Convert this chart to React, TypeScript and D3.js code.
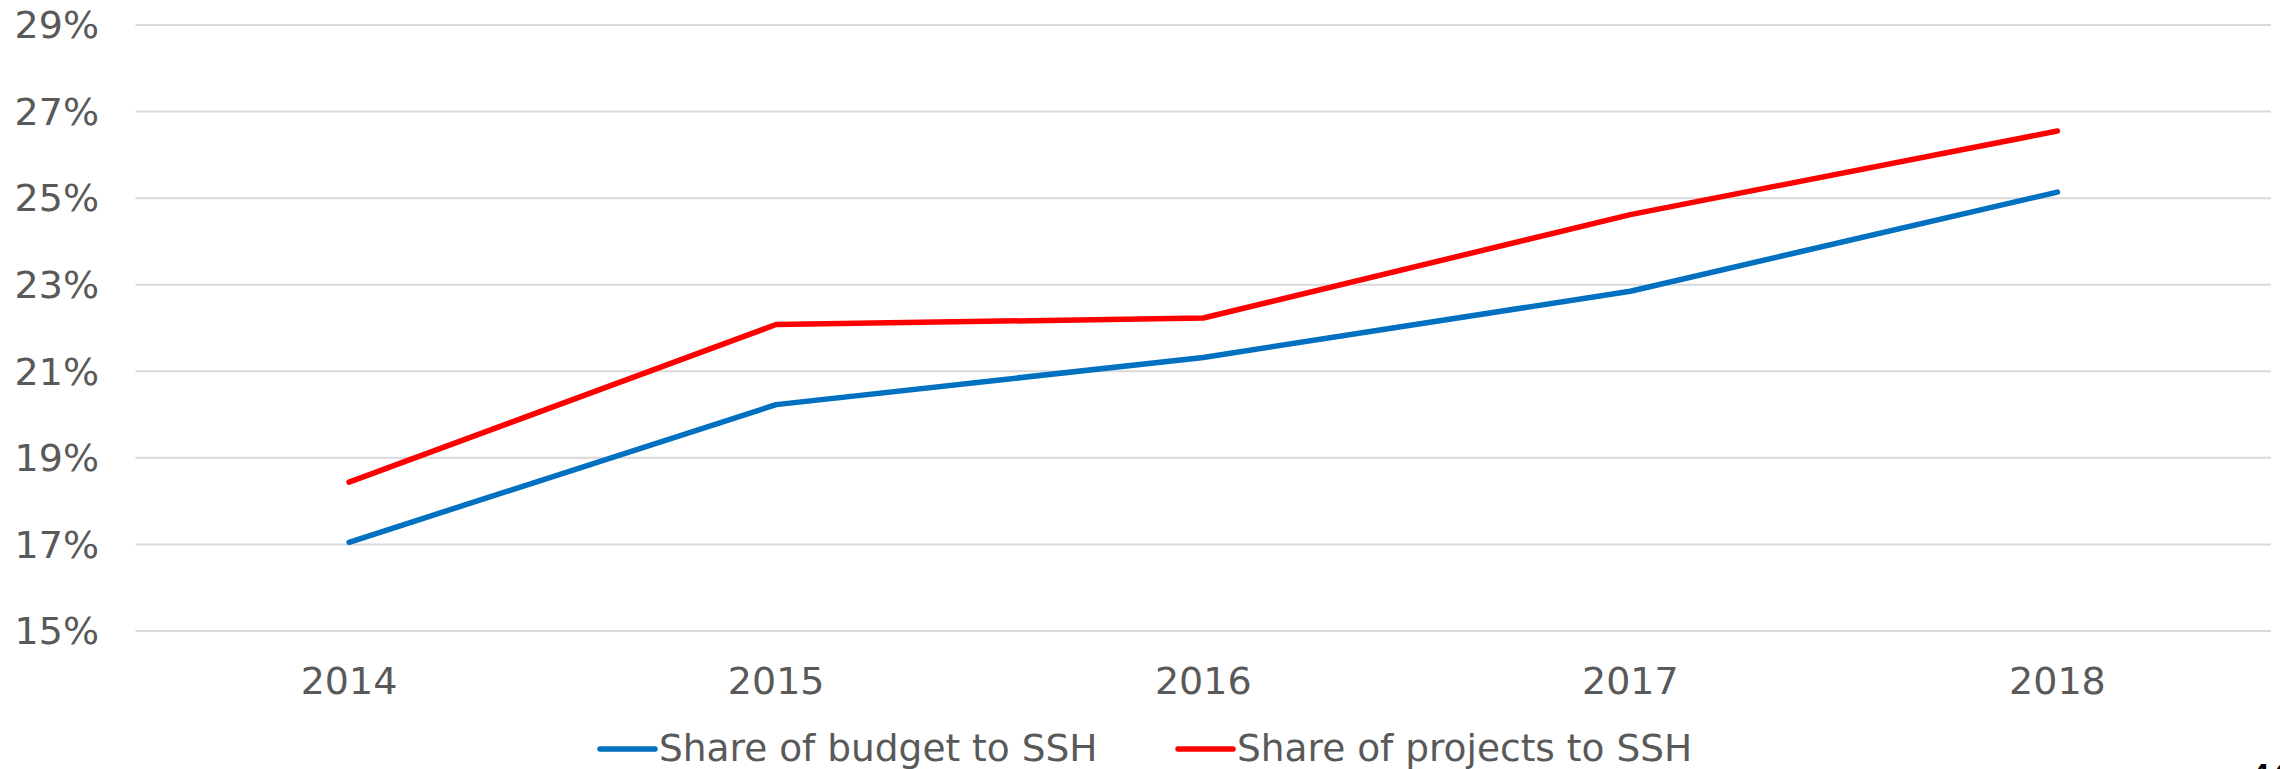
import * as React from 'react';
import * as d3 from 'd3';

const years: string[] = ['2014', '2015', '2016', '2017', '2018'];
const budgetShare: number[] = [17.05, 20.23, 21.32, 22.85, 25.14];
const projectShare: number[] = [18.44, 22.08, 22.23, 24.62, 26.55];
const yTicks: number[] = [15, 17, 19, 21, 23, 25, 27, 29];
const seriesNames: string[] = ['Share of budget to SSH', 'Share of projects to SSH'];
const seriesColors: string[] = ['#0070C0', '#FF0000'];
const pageNumber = '40';

const WIDTH = 2280;
const HEIGHT = 769;
const FONT = '"DejaVu Sans", Verdana, sans-serif';
const TEXT_COLOR = '#595959';

export default function App() {
    const svgRef = React.useRef<SVGSVGElement>(null);

    React.useEffect(() => {
        document.body.style.margin = '0';

        const svg = d3.select(svgRef.current);
        svg.selectAll('*').remove();

        const margin = { top: 25, right: 9, bottom: 138, left: 135.5 };
        const plotRight = WIDTH - margin.right;
        const plotBottom = HEIGHT - margin.bottom;

        const xScale = d3.scaleBand<string>()
            .domain(years)
            .range([margin.left, plotRight]);

        const yScale = d3.scaleLinear()
            .domain([15, 29])
            .range([plotBottom, margin.top]);

        const xMid = (year: string) => (xScale(year) as number) + xScale.bandwidth() / 2;

        // gridlines
        svg.append('g')
            .selectAll('line')
            .data(yTicks)
            .enter()
                .append('line')
                .attr('x1', margin.left)
                .attr('x2', plotRight)
                .attr('y1', (d) => yScale(d))
                .attr('y2', (d) => yScale(d))
                .attr('stroke', '#d9d9d9')
                .attr('stroke-width', 2);

        // y tick labels
        svg.append('g')
            .selectAll('text')
            .data(yTicks)
            .enter()
                .append('text')
                .attr('x', 99)
                .attr('y', (d) => yScale(d))
                .attr('dy', '0.35em')
                .attr('text-anchor', 'end')
                .attr('font-family', FONT)
                .attr('font-size', 38)
                .attr('fill', TEXT_COLOR)
                .text((d) => d + '%');

        // x tick labels
        svg.append('g')
            .selectAll('text')
            .data(years)
            .enter()
                .append('text')
                .attr('x', (d) => xMid(d))
                .attr('y', 694)
                .attr('text-anchor', 'middle')
                .attr('font-family', FONT)
                .attr('font-size', 38)
                .attr('fill', TEXT_COLOR)
                .text((d) => d);

        // lines
        const line = d3.line<number>()
            .x((_, i) => xMid(years[i]))
            .y((d) => yScale(d));

        [budgetShare, projectShare].forEach((values, i) => {
            svg.append('path')
                .datum(values)
                .attr('d', line)
                .attr('fill', 'none')
                .attr('stroke', seriesColors[i])
                .attr('stroke-width', 5.5)
                .attr('stroke-linecap', 'round')
                .attr('stroke-linejoin', 'round');
        });

        // legend
        const legendX = [600, 1178];
        const legend = svg.append('g');
        seriesNames.forEach((name, i) => {
            legend.append('line')
                .attr('x1', legendX[i])
                .attr('x2', legendX[i] + 55)
                .attr('y1', 749)
                .attr('y2', 749)
                .attr('stroke', seriesColors[i])
                .attr('stroke-width', 5.5)
                .attr('stroke-linecap', 'round');
            legend.append('text')
                .attr('x', legendX[i] + 59)
                .attr('y', 761)
                .attr('font-family', FONT)
                .attr('font-size', 37.5)
                .attr('fill', TEXT_COLOR)
                .text(name);
        });

        // slide number, cut off at the bottom edge
        svg.append('text')
            .attr('x', 2247)
            .attr('y', 794)
            .attr('font-family', FONT)
            .attr('font-size', 40)
            .attr('fill', '#000')
            .text(pageNumber);
    }, []);

    return (
        <svg
            ref={svgRef}
            width={WIDTH}
            height={HEIGHT}
            style={{ position: 'absolute', left: 0, top: 0, display: 'block', background: '#fff' }}
        ></svg>
    );
}
